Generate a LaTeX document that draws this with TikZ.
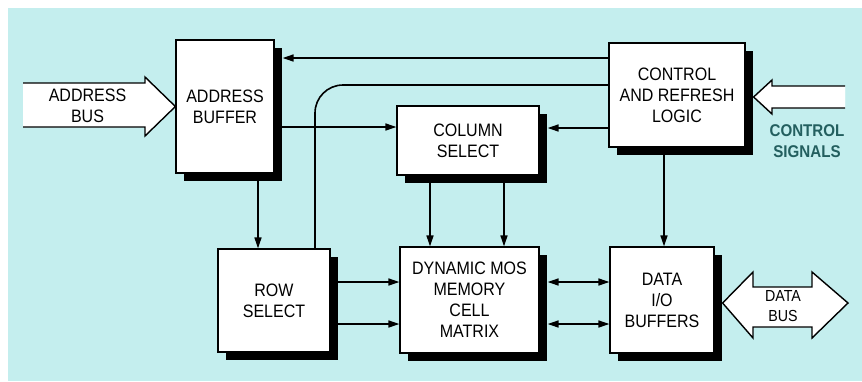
\documentclass[tikz,border=0pt]{standalone}
\usepackage{fontspec}
\setmainfont{Liberation Sans}[FakeStretch=0.89]
\usetikzlibrary{arrows.meta,shadows}
\definecolor{bgcyan}{RGB}{196,238,238}
\definecolor{teal}{RGB}{35,95,95}
\pgfdeclarelayer{bg}
\pgfdeclarelayer{lines}
\pgfsetlayers{bg,lines,main}
\tikzset{
  blockbox/.style={draw=black, line width=1.2pt, fill=white, align=center, inner sep=0pt,
    font=\fontsize{18}{21}\selectfont,
    drop shadow={shadow xshift=8pt, shadow yshift=-8pt, fill=black, opacity=1}},
  conn/.style={line width=1.6pt, draw=black},
  arr/.style={conn, -{Triangle[length=11pt,width=7pt]}},
  darr/.style={conn, {Triangle[length=11pt,width=7pt]}-{Triangle[length=11pt,width=7pt]}},
  fat/.style={draw=black, line width=1.4pt, fill=white, line join=miter},
  lbl/.style={align=center, inner sep=0pt, font=\fontsize{18}{21}\selectfont}
}
\begin{document}
\begin{tikzpicture}[x=1pt,y=-1pt]
\useasboundingbox (0,0) rectangle (862,381);
\begin{pgfonlayer}{bg}
  \fill[white] (0,0) rectangle (862,381);
  \fill[bgcyan] (8,8) rectangle (862,381);
\end{pgfonlayer}

% blocks
\node[blockbox, minimum width=98pt, minimum height=133pt] (ab) at (225,106.5) {ADDRESS\\BUFFER};
\node[blockbox, minimum width=142pt, minimum height=69pt] (cs) at (468,140.5) {COLUMN\\SELECT};
\node[blockbox, minimum width=136pt, minimum height=104pt] (cr) at (677,95) {CONTROL\\AND REFRESH\\LOGIC};
\node[blockbox, minimum width=112pt, minimum height=103pt] (rs) at (274,300.5) {ROW\\SELECT};
\node[blockbox, minimum width=139pt, minimum height=106pt] (mm) at (469.5,300) {DYNAMIC MOS\\MEMORY\\CELL\\MATRIX};
\node[blockbox, minimum width=104pt, minimum height=106pt] (dio) at (662,300) {DATA\\I/O\\BUFFERS};

% connectors
\begin{pgfonlayer}{lines}
  \draw[arr] (cr.west |- 0,58) -- ([xshift=8pt]ab.east |- 0,58);
  \draw[conn, rounded corners=28pt] (cr.west |- 0,85) -| ([xshift=41pt]rs.north);
  \draw[arr] (ab.east |- 0,127) -- (cs.west |- 0,127);
  \draw[arr] (cr.west |- 0,128) -- ([xshift=8pt]cs.east |- 0,128);
  \draw[arr] ([xshift=33pt]ab.south) -- (rs.north -| 258,0);
  \draw[arr] (cs.south -| 430,0) -- (mm.north -| 430,0);
  \draw[arr] (cs.south -| 504,0) -- (mm.north -| 504,0);
  \draw[arr] (rs.east |- 0,282) -- (mm.west |- 0,282);
  \draw[arr] (rs.east |- 0,324) -- (mm.west |- 0,324);
  \draw[darr] ([xshift=8pt]mm.east |- 0,282) -- (dio.west |- 0,282);
  \draw[darr] ([xshift=8pt]mm.east |- 0,324) -- (dio.west |- 0,324);
  \draw[arr] (cr.south -| 664,0) -- (dio.north -| 664,0);
\end{pgfonlayer}

% fat arrows
\fill[white] (23,83) -- (145,83) -- (145,77) -- (ab.west) -- (145,136) -- (145,127) -- (23,127) -- cycle;
\draw[fat] (23,83) -- (145,83) -- (145,77) -- (ab.west) -- (145,136) -- (145,127) -- (23,127);
\node[lbl] (abus) at (87.5,106) {ADDRESS\\BUS};

\fill[white] (845,86) -- (772,86) -- (772,80) -- ([xshift=8pt]cr.east |- 0,97) -- (772,114) -- (772,108) -- (845,108) -- cycle;
\draw[fat] (845,86) -- (772,86) -- (772,80) -- ([xshift=8pt]cr.east |- 0,97) -- (772,114) -- (772,108) -- (845,108);
\node[lbl, text=teal, font=\fontsize{17}{21}\selectfont\bfseries] (csig) at (807,141.5) {CONTROL\\SIGNALS};

\draw[fat] ([xshift=8pt]dio.east |- 0,303) -- (753,272) -- (753,287) -- (812,287) -- (812,272) -- (848,303)
  -- (812,338) -- (812,327) -- (753,327) -- (753,338) -- cycle;
\node[lbl, font=\fontsize{16}{20}\selectfont] (dbus) at (783,306) {DATA\\BUS};
\end{tikzpicture}
\end{document}
